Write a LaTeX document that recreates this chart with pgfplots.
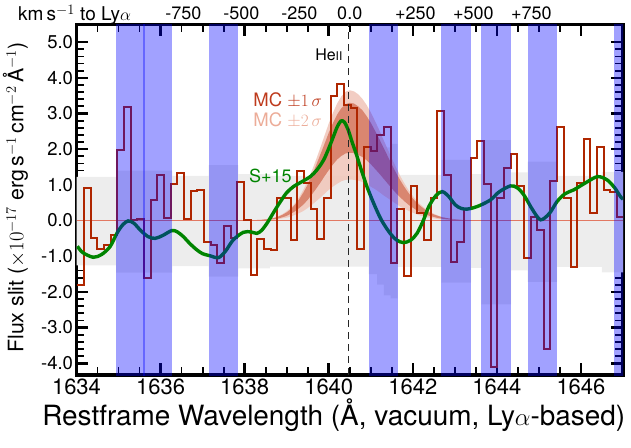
\documentclass[border=0pt]{standalone}
\usepackage{fontspec}
\setmainfont{TeX Gyre Heros}
\usepackage{pgfplots}
\usepackage{pgfplotstable}
\pgfplotsset{compat=1.18}
\usepgfplotslibrary{fillbetween}

\definecolor{histred}{RGB}{175,38,0}
\definecolor{bandblue}{RGB}{0,0,255}
\definecolor{noisegray}{RGB}{237,237,237}
\definecolor{mcdark}{RGB}{214,122,98}
\definecolor{mclight}{RGB}{241,200,188}
\definecolor{mctexta}{RGB}{190,58,28}
\definecolor{mctextb}{RGB}{236,172,152}
\definecolor{zeroline}{RGB}{226,120,98}
\definecolor{sgreen}{RGB}{0,132,0}

% observed binned spectrum (left bin edges)
\pgfplotstableread{
x y
1634.000 -1.81
1634.180 0.91
1634.339 -0.50
1634.497 -0.80
1634.656 -0.68
1634.814 -0.40
1634.973 1.98
1635.131 3.18
1635.290 0.02
1635.448 0.05
1635.607 -1.62
1635.765 0.58
1635.924 1.28
1636.082 0.06
1636.241 1.03
1636.399 1.34
1636.558 0.04
1636.716 0.83
1636.875 0.86
1637.033 -0.59
1637.192 -0.68
1637.350 -1.18
1637.509 -0.15
1637.667 -0.50
1637.826 1.07
1637.984 0.02
1638.143 -1.52
1638.301 -0.53
1638.460 -0.80
1638.618 -0.84
1638.777 0.64
1638.935 0.64
1639.094 -0.56
1639.252 1.39
1639.411 1.06
1639.569 0.33
1639.728 -0.52
1639.886 0.62
1640.045 3.49
1640.203 3.82
1640.362 3.25
1640.520 3.15
1640.679 -0.80
1640.837 2.07
1640.996 1.95
1641.154 2.40
1641.313 2.63
1641.471 -1.20
1641.630 0.33
1641.788 -1.55
1641.947 0.98
1642.105 0.22
1642.264 -0.54
1642.422 0.62
1642.581 3.08
1642.739 1.28
1642.898 -1.17
1643.056 -0.59
1643.215 0.32
1643.373 1.76
1643.532 2.23
1643.690 1.02
1643.849 -4.10
1644.007 0.64
1644.166 1.48
1644.324 1.86
1644.483 0.98
1644.641 -1.06
1644.800 0.11
1644.958 -0.26
1645.117 -3.61
1645.275 1.11
1645.434 2.63
1645.592 0.64
1645.751 -1.29
1645.909 1.05
1646.068 2.28
1646.226 0.22
1646.385 2.07
1646.543 0.86
1646.702 0.81
1646.860 0.11
1647.000 0.11
}\spectab

% noise level (+/- 1 sigma)
\pgfplotstableread{
x s m
1634.00 1.22 -1.26
1634.94 1.40 -1.46
1636.28 1.25 -1.28
1637.14 1.55 -1.57
1637.85 1.30 -1.34
1638.60 1.25 -1.29
1640.95 1.45 -1.50
1641.15 1.75 -1.80
1641.31 2.05 -2.10
1641.47 2.15 -2.18
1641.64 1.28 -1.30
1642.68 1.70 -1.74
1643.39 1.30 -1.33
1643.63 2.25 -2.35
1644.34 1.35 -1.40
1644.73 1.65 -1.72
1645.43 1.25 -1.30
1646.50 1.36 -1.45
1647.00 1.36 -1.45
}\noisetab

% MC envelopes
\pgfplotstableread{
x u2 u1 l1 l2
1638.0 0.00 0.00 0.00 0.00
1638.2 0.01 0.01 0.00 0.00
1638.4 0.02 0.02 0.01 0.01
1638.6 0.05 0.05 0.03 0.02
1638.7 0.08 0.07 0.04 0.02
1638.8 0.12 0.11 0.06 0.04
1638.9 0.18 0.16 0.09 0.06
1639.0 0.26 0.23 0.13 0.08
1639.1 0.36 0.32 0.19 0.11
1639.2 0.49 0.45 0.26 0.16
1639.3 0.66 0.60 0.35 0.21
1639.4 0.87 0.79 0.45 0.27
1639.5 1.12 1.01 0.58 0.35
1639.6 1.40 1.26 0.73 0.44
1639.7 1.71 1.55 0.89 0.54
1639.8 2.04 1.85 1.06 0.64
1639.9 2.38 2.15 1.24 0.75
1640.0 2.72 2.46 1.41 0.86
1640.1 3.02 2.73 1.57 0.95
1640.2 3.28 2.97 1.71 1.03
1640.3 3.48 3.15 1.81 1.10
1640.4 3.61 3.26 1.88 1.14
1640.5 3.65 3.30 1.90 1.15
1640.6 3.62 3.28 1.89 1.14
1640.7 3.54 3.20 1.84 1.12
1640.8 3.41 3.09 1.78 1.08
1640.9 3.24 2.93 1.69 1.02
1641.0 3.03 2.74 1.58 0.95
1641.1 2.79 2.52 1.45 0.88
1641.2 2.54 2.29 1.32 0.80
1641.3 2.27 2.05 1.18 0.71
1641.4 2.00 1.81 1.04 0.63
1641.5 1.74 1.57 0.90 0.55
1641.6 1.49 1.34 0.77 0.47
1641.7 1.25 1.13 0.65 0.39
1641.8 1.04 0.94 0.54 0.33
1641.9 0.85 0.77 0.44 0.27
1642.0 0.69 0.62 0.36 0.22
1642.1 0.54 0.49 0.28 0.17
1642.2 0.43 0.39 0.22 0.13
1642.3 0.33 0.30 0.17 0.10
1642.4 0.25 0.22 0.13 0.08
1642.5 0.19 0.17 0.10 0.06
1642.6 0.14 0.13 0.07 0.04
1642.7 0.10 0.09 0.05 0.03
1642.8 0.07 0.07 0.04 0.02
1642.9 0.05 0.05 0.03 0.02
1643.0 0.04 0.03 0.02 0.01
1643.2 0.02 0.01 0.01 0.01
1643.4 0.00 0.00 0.00 0.00
}\mctab

% S+15 model
\pgfplotstableread{
x y
1634.02 -0.72
1634.15 -0.90
1634.40 -1.03
1634.60 -0.95
1634.80 -0.73
1634.96 -0.36
1635.10 -0.12
1635.23 -0.01
1635.37 -0.08
1635.51 -0.26
1635.70 -0.45
1635.87 -0.50
1636.05 -0.42
1636.27 -0.28
1636.40 -0.32
1636.54 -0.45
1636.70 -0.65
1636.86 -0.82
1637.00 -0.93
1637.18 -0.99
1637.38 -1.04
1637.55 -0.85
1637.73 -0.54
1637.97 -0.33
1638.15 -0.32
1638.29 -0.36
1638.40 -0.28
1638.53 -0.08
1638.70 0.25
1638.85 0.53
1639.00 0.78
1639.16 0.95
1639.35 1.08
1639.56 1.23
1639.72 1.42
1639.88 1.70
1640.00 2.02
1640.11 2.35
1640.20 2.62
1640.29 2.79
1640.37 2.76
1640.46 2.55
1640.55 2.22
1640.65 1.88
1640.75 1.51
1640.90 0.98
1641.07 0.48
1641.25 0.02
1641.46 -0.36
1641.62 -0.55
1641.78 -0.62
1641.95 -0.55
1642.10 -0.36
1642.25 0.00
1642.38 0.39
1642.55 0.70
1642.70 0.81
1642.85 0.68
1643.01 0.44
1643.15 0.34
1643.29 0.32
1643.45 0.36
1643.61 0.43
1643.85 0.58
1644.05 0.80
1644.32 0.97
1644.48 0.92
1644.64 0.72
1644.85 0.30
1645.04 0.02
1645.25 0.20
1645.43 0.53
1645.62 0.75
1645.83 0.86
1646.10 1.05
1646.39 1.23
1646.62 1.14
1646.80 0.92
1646.94 0.67
1647.00 0.60
}\modeltab

\begin{document}
\begin{tikzpicture}
\begin{axis}[
  name=ax,
  scale only axis,
  width=546.5pt, height=350.7pt,
  xmin=1634, xmax=1647, ymin=-4.33, ymax=5.5,
  xtick={1634,1636,1638,1640,1642,1644,1646},
  xticklabels={1634,1636,1638,1640,1642,1644,1646},
  minor x tick num=3,
  ytick={-4,-3,-2,-1,0,1,2,3,4,5},
  yticklabels={-4.0,-3.0,-2.0,-1.0,0.0,1.0,2.0,3.0,4.0,5.0},
  minor y tick num=4,
  tick align=inside,
  major tick length=12pt, minor tick length=8pt,
  every major tick/.append style={black, line width=2.6pt},
  every minor tick/.append style={black, line width=1.8pt},
  axis line style={line width=3.2pt},
  xticklabel style={font=\fontsize{22}{22}\selectfont},
  yticklabel style={font=\fontsize{18.5}{18.5}\selectfont},
]
% noise band
\addplot[const plot, draw=none, name path=nup] table[x=x, y=s]{\noisetab};
\addplot[const plot, draw=none, name path=nlo] table[x=x, y=m]{\noisetab};
\addplot[noisegray] fill between[of=nup and nlo];
% MC envelopes
\addplot[draw=none, name path=u2] table[x=x, y=u2]{\mctab};
\addplot[draw=none, name path=l2] table[x=x, y=l2]{\mctab};
\addplot[draw=none, name path=u1] table[x=x, y=u1]{\mctab};
\addplot[draw=none, name path=l1] table[x=x, y=l1]{\mctab};
\addplot[mclight, fill opacity=0.9] fill between[of=u2 and l2];
\addplot[mcdark, fill opacity=0.85] fill between[of=u1 and l1];
% zero line
\addplot[zeroline, line width=1.2pt] coordinates {(1634,0) (1647,0)};
% spectrum
\addplot[const plot, histred, line width=2pt, line join=miter] table[x=x, y=y]{\spectab};
% S+15 model
\addplot[sgreen, line width=3.4pt, smooth] table[x=x, y=y]{\modeltab};
% sky-line bands
\addplot[fill=bandblue, fill opacity=0.37, draw=none] coordinates {(1634.94,-5) (1635.63,-5) (1635.63,6) (1634.94,6)} -- cycle;
\addplot[fill=bandblue, fill opacity=0.37, draw=none] coordinates {(1635.59,-5) (1636.28,-5) (1636.28,6) (1635.59,6)} -- cycle;
\addplot[fill=bandblue, fill opacity=0.37, draw=none] coordinates {(1637.14,-5) (1637.85,-5) (1637.85,6) (1637.14,6)} -- cycle;
\addplot[fill=bandblue, fill opacity=0.37, draw=none] coordinates {(1640.95,-5) (1641.64,-5) (1641.64,6) (1640.95,6)} -- cycle;
\addplot[fill=bandblue, fill opacity=0.37, draw=none] coordinates {(1642.68,-5) (1643.39,-5) (1643.39,6) (1642.68,6)} -- cycle;
\addplot[fill=bandblue, fill opacity=0.37, draw=none] coordinates {(1643.63,-5) (1644.34,-5) (1644.34,6) (1643.63,6)} -- cycle;
\addplot[fill=bandblue, fill opacity=0.37, draw=none] coordinates {(1644.73,-5) (1645.43,-5) (1645.43,6) (1644.73,6)} -- cycle;
\addplot[fill=bandblue, fill opacity=0.37, draw=none] coordinates {(1646.78,-5) (1647.20,-5) (1647.20,6) (1646.78,6)} -- cycle;
% HeII line
\addplot[black!85, line width=1.5pt, dash pattern=on 7pt off 5pt] coordinates {(1640.47,-4.33) (1640.47,5.5)};
% annotations
\node[anchor=east, text=mctexta, font=\fontsize{18.5}{18.5}\selectfont, inner sep=0pt] at (axis cs:1639.84,3.38) {MC $\pm1\,\sigma$};
\node[anchor=east, text=mctextb, font=\fontsize{18.5}{18.5}\selectfont, inner sep=0pt] at (axis cs:1639.84,2.80) {MC $\pm2\,\sigma$};
\node[anchor=east, text=sgreen, font=\fontsize{18}{18}\selectfont, inner sep=0pt] at (axis cs:1639.12,1.25) {S+15};
\node[anchor=east, font=\fontsize{16}{16}\selectfont, inner sep=0pt] at (axis cs:1640.33,4.64) {He{\fontsize{12}{12}\selectfont II}};
% top velocity label positions
\coordinate (va) at (axis cs:1636.54,5.5);
\coordinate (vb) at (axis cs:1637.92,5.5);
\coordinate (vc) at (axis cs:1639.30,5.5);
\coordinate (vd) at (axis cs:1640.50,5.5);
\coordinate (ve) at (axis cs:1642.06,5.5);
\coordinate (vf) at (axis cs:1643.44,5.5);
\coordinate (vg) at (axis cs:1644.82,5.5);
\end{axis}
\begin{scope}[every node/.style={anchor=base, inner sep=0pt, font=\fontsize{18}{18}\selectfont}]
\node at ([yshift=4.5pt]va) {-750};
\node at ([yshift=4.5pt]vb) {-500};
\node at ([yshift=4.5pt]vc) {-250};
\node at ([yshift=4.5pt]vd) {0.0};
\node at ([yshift=4.5pt]ve) {+250};
\node at ([yshift=4.5pt]vf) {+500};
\node at ([yshift=4.5pt]vg) {+750};
\node[anchor=base west, font=\fontsize{19}{19}\selectfont] at ([xshift=-58.5pt,yshift=4pt]ax.north west) {km\,s$^{-1}$ to Ly$\alpha$};
\end{scope}
\node[rotate=90, inner sep=0pt, font=\fontsize{21.3}{21.3}\selectfont] at ([xshift=-61pt,yshift=2pt]ax.west)
  {Flux slit ($\times10^{-17}$ erg\,s$^{-1}$\,cm$^{-2}$\,\AA$^{-1}$)};
\node[inner sep=0pt, font=\fontsize{27.9}{27.9}\selectfont] at ([xshift=-16pt,yshift=-40pt]ax.south)
  {Restframe Wavelength (\AA, vacuum, Ly$\alpha$-based)};
\pgfresetboundingbox
\path[use as bounding box] ([xshift=-76.5pt,yshift=-72pt]ax.south west) rectangle ([xshift=8pt,yshift=24.3pt]ax.north east);
\end{tikzpicture}
\end{document}
